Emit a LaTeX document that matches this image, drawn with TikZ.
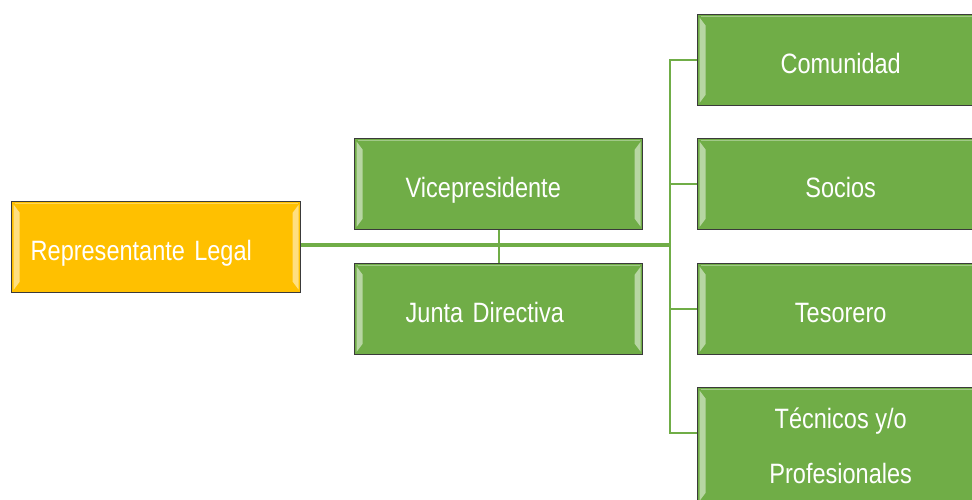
\documentclass[tikz,border=0pt]{standalone}
\usepackage{fontspec}
\setmainfont{Liberation Sans}[FakeStretch=0.84]
\usetikzlibrary{positioning}
\definecolor{orgGreen}{HTML}{70AD47}
\definecolor{orgYellow}{HTML}{FFC000}
\definecolor{orgEdge}{HTML}{3A3A3A}
\begin{document}
\begin{tikzpicture}[x=1pt,y=-1pt,
	box/.style={draw=orgEdge, line width=1.4pt, minimum height=91pt, inner ysep=0pt,
		text=white, font=\fontsize{28}{55}\selectfont,
		path picture={
			\fill[white,opacity=.5] ([shift={(2pt,-3pt)}]path picture bounding box.north west)
				-- ([shift={(8pt,-11pt)}]path picture bounding box.north west)
				-- ([shift={(8pt,11pt)}]path picture bounding box.south west)
				-- ([shift={(2pt,3pt)}]path picture bounding box.south west) -- cycle;
			\fill[white,opacity=.5] ([shift={(-2pt,-3pt)}]path picture bounding box.north east)
				-- ([shift={(-8pt,-11pt)}]path picture bounding box.north east)
				-- ([shift={(-8pt,11pt)}]path picture bounding box.south east)
				-- ([shift={(-2pt,3pt)}]path picture bounding box.south east) -- cycle;
			\draw[white,opacity=.35,line width=1pt] ([shift={(3pt,-2pt)}]path picture bounding box.north west)
				-- ([shift={(-3pt,-2pt)}]path picture bounding box.north east);
		}},
	oneline/.style={text height=26pt, text depth=0pt},
	greenbox/.style={box, fill=orgGreen},
	yellowbox/.style={box, fill=orgYellow},
	link/.style={draw=orgGreen, line width=2pt}]
\useasboundingbox (0,0) rectangle (972,500);

% left side
\node[yellowbox, oneline, anchor=north west, minimum width=289pt, text width=251pt, inner xsep=19pt, align=left]
	(rep) at (11,201) {Representante Legal};
\node[greenbox, oneline, anchor=north west, minimum width=288pt, text width=186pt, inner xsep=51pt, align=left]
	(vice) at (354,138) {Vicepresidente};
\node[greenbox, oneline, anchor=north west, minimum width=288pt, text width=186pt, inner xsep=51pt, align=left]
	(junta) at (354,263) {Junta Directiva};

% right column
\node[greenbox, oneline, anchor=north west, minimum width=286pt, align=center] (comu) at (697,14) {Comunidad};
\node[greenbox, oneline, anchor=north west, minimum width=286pt, align=center] (socios) at (697,138) {Socios};
\node[greenbox, oneline, anchor=north west, minimum width=286pt, align=center] (teso) at (697,263) {Tesorero};
\node[greenbox, anchor=north west, minimum width=286pt, minimum height=116pt, align=center]
	(tecn) at (697,387) {T\'ecnicos y/o\\Profesionales};

% connectors
\coordinate (hub) at (670,245);
\coordinate (trunkbot) at (670,433);
\draw[link] (vice.south) -- (junta.north);
\draw[link, line width=4pt] (rep.east |- hub) -- (hub);
\draw[link] (comu.west) -| (trunkbot) -- (trunkbot -| tecn.west);
\draw[link] (hub |- socios.west) -- (socios.west);
\draw[link] (hub |- teso.west) -- (teso.west);
\end{tikzpicture}
\end{document}
